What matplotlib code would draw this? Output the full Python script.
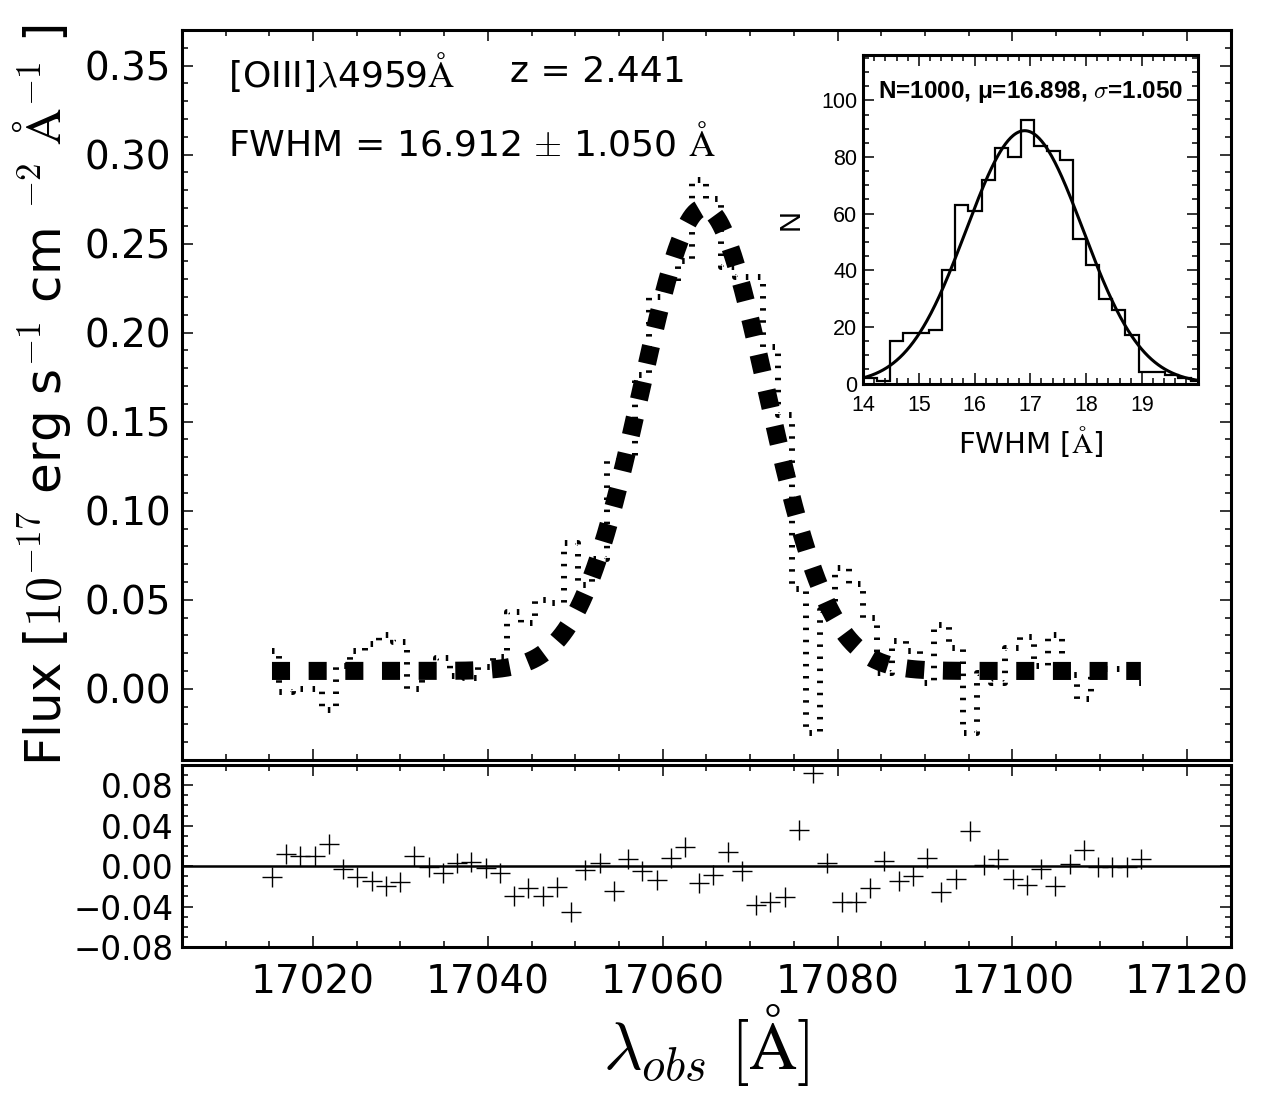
import numpy as np
import matplotlib
matplotlib.use("Agg")
import matplotlib.pyplot as plt
from matplotlib.ticker import MultipleLocator, FuncFormatter

plt.rcParams["font.family"] = "DejaVu Sans"
plt.rcParams["mathtext.fontset"] = "cm"
plt.rcParams["lines.scale_dashes"] = False

# observed spectrum (pixel centres, flux) and residuals (model - data)
WAVE = [17015.30, 17016.93, 17018.56, 17020.19, 17021.82, 17023.45, 17025.08, 17026.71,
        17028.34, 17029.97, 17031.60, 17033.22, 17034.85, 17036.48, 17038.11, 17039.74,
        17041.37, 17043.00, 17044.63, 17046.26, 17047.89, 17049.52, 17051.15, 17052.78,
        17054.41, 17056.04, 17057.67, 17059.30, 17060.93, 17062.56, 17064.19, 17065.81,
        17067.44, 17069.07, 17070.70, 17072.33, 17073.96, 17075.59, 17077.22, 17078.85,
        17080.48, 17082.11, 17083.74, 17085.37, 17087.00, 17088.63, 17090.26, 17091.89,
        17093.52, 17095.15, 17096.78, 17098.40, 17100.03, 17101.66, 17103.29, 17104.92,
        17106.55, 17108.18, 17109.81, 17111.44, 17113.07, 17114.70]
FLUX = [0.021, -0.002, 0.000, 0.000, -0.012, 0.013, 0.021, 0.025, 0.030, 0.026, 0.000,
        0.011, 0.017, 0.007, 0.006, 0.012, 0.018, 0.043, 0.037, 0.050, 0.048, 0.082,
        0.058, 0.073, 0.128, 0.129, 0.176, 0.220, 0.229, 0.240, 0.286, 0.275, 0.237,
        0.231, 0.231, 0.192, 0.154, 0.056, -0.025, 0.044, 0.068, 0.059, 0.040, 0.009,
        0.027, 0.021, 0.003, 0.036, 0.023, -0.025, 0.009, 0.003, 0.023, 0.029, 0.013,
        0.030, 0.008, -0.006, 0.011, 0.011, 0.011, 0.003]
RESID = [-0.011, 0.012, 0.010, 0.010, 0.022, -0.003, -0.011, -0.015, -0.020, -0.016, 0.010,
         -0.001, -0.007, 0.003, 0.004, -0.002, -0.007, -0.030, -0.022, -0.030, -0.021, -0.045,
         -0.004, 0.003, -0.025, 0.007, -0.005, -0.014, 0.008, 0.019, -0.017, -0.009, 0.014,
         -0.005, -0.038, -0.035, -0.031, 0.036, 0.092, 0.003, -0.035, -0.035, -0.022, 0.005,
         -0.015, -0.010, 0.008, -0.026, -0.013, 0.035, 0.001, 0.007, -0.013, -0.019, -0.003,
         -0.020, 0.002, 0.016, -0.001, -0.001, -0.001, 0.007]

# gaussian line fit
CONT = 0.010
AMP = 0.260
CENTER = 17064.7
FWHM = 16.912

# monte-carlo FWHM distribution (inset)
HIST_EDGES = [13.780, 14.015, 14.250, 14.484, 14.719, 14.953, 15.188, 15.422, 15.657,
              15.891, 16.126, 16.360, 16.595, 16.829, 17.064, 17.298, 17.533, 17.767,
              18.002, 18.236, 18.471, 18.705, 18.940, 19.174, 19.409, 19.643, 19.878, 20.112]
HIST_COUNTS = [2, 2, 1, 15, 18, 18, 19, 40, 63, 61, 72, 83, 80, 93, 84, 82, 79, 51,
               42, 30, 26, 17, 4, 4, 3, 2, 1]
MC_N, MC_MU, MC_SIG = 1000, 16.898, 1.050

ANG = r"\mathrm{\AA}"
fmt2 = FuncFormatter(lambda v, p: ("%.2f" % v).replace("-", "\u2212"))


def style(a, lw=2.2, maj=8, mnr=4):
    for s in a.spines.values():
        s.set_linewidth(lw)
    a.tick_params(which="both", direction="in", top=True, right=True, width=1.1)
    a.tick_params(which="major", length=maj)
    a.tick_params(which="minor", length=mnr)


fig = plt.figure(figsize=(12.75, 11.03), dpi=100)
ax = fig.add_axes([0.1427, 0.311, 0.8227, 0.6618])
axr = fig.add_axes([0.1427, 0.1414, 0.8227, 0.165])
axi = fig.add_axes([0.6769, 0.6523, 0.2624, 0.2978])

# ─── main panel ───
ax.plot(WAVE, FLUX, drawstyle="steps-mid", color="k", lw=4.3, ls=(0, (1.8, 6.9)))
sig = FWHM / (2 * np.sqrt(2 * np.log(2)))
xm = np.linspace(WAVE[0], WAVE[-1], 800)
ym = CONT + AMP * np.exp(-(xm - CENTER) ** 2 / (2 * sig ** 2))
ax.plot(xm, ym, color="k", lw=13, ls=(0, (13, 13.4)))
ax.set_xlim(17005, 17125)
ax.set_ylim(-0.04, 0.37)
ax.set_yticks(np.arange(0, 0.36, 0.05))
ax.yaxis.set_minor_locator(MultipleLocator(0.01))
ax.xaxis.set_major_locator(MultipleLocator(20))
ax.xaxis.set_minor_locator(MultipleLocator(5))
ax.yaxis.set_major_formatter(fmt2)
ax.set_xticklabels([])
style(ax)
ax.tick_params(axis="y", labelsize=28, pad=8)
ax.set_ylabel(r"Flux [$10^{-17}$ erg s$^{-1}$ cm $^{-2}$ $" + ANG + r"^{-1}$ ]", fontsize=36)
ax.yaxis.set_label_coords(-0.104, 0.5)

ax.text(0.044, 0.9425, r"[OIII]$\lambda$4959$" + ANG + "$", transform=ax.transAxes,
        fontsize=26, va="center")
ax.text(0.3127, 0.9425, "z = 2.441", transform=ax.transAxes, fontsize=26, va="center")
ax.text(0.044, 0.845, r"FWHM = 16.912 $\pm$ 1.050 $" + ANG + "$", transform=ax.transAxes,
        fontsize=26, va="center")

# ─── residuals ───
axr.plot(WAVE, RESID, "+", color="k", ms=14.4, mew=1.0)
axr.axhline(0, color="k", lw=1.8)
axr.set_xlim(17005, 17125)
axr.set_ylim(-0.08, 0.10)
axr.set_yticks([-0.08, -0.04, 0.0, 0.04, 0.08])
axr.yaxis.set_major_formatter(fmt2)
axr.yaxis.set_minor_locator(MultipleLocator(0.01))
axr.xaxis.set_major_locator(MultipleLocator(20))
axr.xaxis.set_minor_locator(MultipleLocator(5))
style(axr)
axr.tick_params(axis="y", labelsize=23.5, pad=6)
axr.tick_params(axis="x", labelsize=28, pad=12)
axr.set_xlabel(r"$\lambda_{obs}\ [" + ANG + "]$", fontsize=48)
axr.xaxis.set_label_coords(0.5, -0.3)

# ─── inset: FWHM distribution ───
axi.stairs(HIST_COUNTS, HIST_EDGES, color="k", lw=1.6)
binw = HIST_EDGES[2] - HIST_EDGES[1]
xg = np.linspace(14, 20, 400)
yg = MC_N * binw / (MC_SIG * np.sqrt(2 * np.pi)) * np.exp(-(xg - MC_MU) ** 2 / (2 * MC_SIG ** 2))
axi.plot(xg, yg, color="k", lw=2.2)
axi.set_xlim(14, 20)
axi.set_ylim(0, 116)
axi.set_xticks([14, 15, 16, 17, 18, 19])
axi.set_yticks([0, 20, 40, 60, 80, 100])
axi.xaxis.set_minor_locator(MultipleLocator(0.2))
axi.yaxis.set_minor_locator(MultipleLocator(5))
style(axi, lw=2.2, maj=8, mnr=4)
for lab in axi.get_xticklabels() + axi.get_yticklabels():
    lab.set_family("Liberation Sans")
    lab.set_fontsize(15.5)
axi.tick_params(axis="x", pad=8)
axi.tick_params(axis="y", pad=4)
axi.set_xlabel(r"FWHM [$" + ANG + "$]", fontsize=21, labelpad=6)
axi.set_ylabel("N", fontsize=21, family="Liberation Sans", labelpad=12)
axi.text(0.044, 0.888, r"N=1000, μ=16.898, $\sigma$=1.050", transform=axi.transAxes,
         fontsize=17.5, fontweight="bold", family="Liberation Sans", va="center")

fig.savefig("out.png", dpi=100)
